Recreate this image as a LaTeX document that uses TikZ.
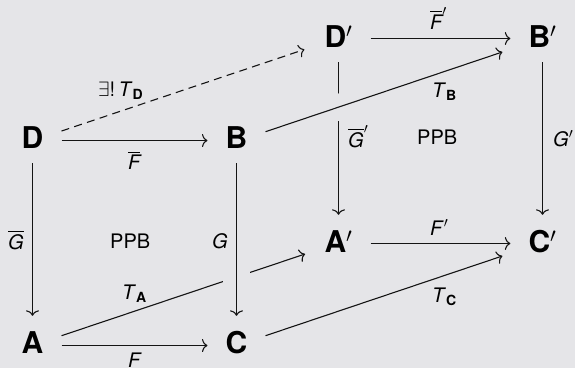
\documentclass[tikz,border=0pt]{standalone}
\usepackage{amsmath}
\usepackage{fontspec}
\setmainfont{TeX Gyre Heros}
\usetikzlibrary{arrows.meta,calc}
\definecolor{paper}{RGB}{229,229,232}
\definecolor{ink}{RGB}{20,20,20}
\begin{document}
\begin{tikzpicture}[x=1pt,y=-1pt,
  obj/.style={font=\fontsize{30}{36}\selectfont\bfseries, anchor=base,
    inner xsep=18pt, inner ysep=15pt, text height=22pt, text depth=0pt},
  lbl/.style={font=\fontsize{20}{24}\selectfont, anchor=base west, inner sep=0pt},
  arr/.style={draw=ink, line width=1.1pt, -{To[length=5.5pt,width=13pt]}},
  gapcover/.style={draw=paper, line width=26pt},
]
\fill[paper] (0,0) rectangle (575,368);
\useasboundingbox (0,0) rectangle (575,368);

% objects: front face
\node[obj] (D) at (32.5,148) {D};
\node[obj] (B) at (236.5,148) {B};
\node[obj] (A) at (32.5,353) {A};
\node[obj] (C) at (236.5,353) {C};
% objects: back face
\node[obj] (Dp) at (338.5,47) {D$'$};
\node[obj] (Bp) at (542.5,47) {B$'$};
\node[obj] (Ap) at (338.5,252) {A$'$};
\node[obj] (Cp) at (542.5,252) {C$'$};

% end points of the diagonal maps
\coordinate (ds) at ([shift={(0,-17)}]D.base east);
\coordinate (de) at ([shift={(-2,2.5)}]Dp.base west);
\coordinate (bs) at ([shift={(0,-16.3)}]B.base east);
\coordinate (be) at ([shift={(-8,5)}]Bp.base west);
\coordinate (as) at ([shift={(0,-17.3)}]A.base east);
\coordinate (ae) at ([shift={(-1.3,2)}]Ap.base west);
\coordinate (cs) at ([shift={(0,-17.3)}]C.base east);
\coordinate (ce) at ([shift={(-8,4)}]Cp.base west);

% horizontal maps
\draw[arr] ([shift={(0,-7.5)}]D.base east) -- ([shift={(0,-7.5)}]B.base west);
\draw[arr] ([shift={(0,-7.5)}]A.base east) -- ([shift={(0,-7.5)}]C.base west);
\draw[arr] ([shift={(0,-8.5)}]Dp.base east) -- ([shift={(0,-8.5)}]Bp.base west);
\draw[arr] ([shift={(0,-8.5)}]Ap.base east) -- ([shift={(0,-8.5)}]Cp.base west);

% vertical maps (back) with T_B crossing over
\draw[arr] (Dp.south) -- (Ap.north);
\draw[arr] (Bp.south) -- (Cp.north);
\coordinate (x1) at (intersection of Dp.south--Ap.north and bs--be);
\draw[gapcover] ($(x1)!14pt!(bs)$) -- ($(x1)!14pt!(be)$);
\draw[arr] (bs) -- (be);

% diagonal maps
\draw[arr, dash pattern=on 8pt off 5.4pt] (ds) -- (de);
\draw[arr] (cs) -- (ce);
\draw[arr] (as) -- (ae);

% vertical maps (front) with G crossing over T_A
\draw[arr] (D.south) -- (A.north);
\coordinate (x2) at (intersection of B.south--C.north and as--ae);
\draw[gapcover, line width=27pt] ($(x2)+(0,-10)$) -- ($(x2)+(0,10)$);
\draw[arr] (B.south) -- (C.north);

% labels
\node[lbl] (lFb)  at (128,169.5) {$\overline{\textit{F}}$};
\node[lbl] (lTD)  at (98,96.5)   {$\exists$!\,\textit{T}$_{\textbf{D}}$};
\node[lbl] (lFbp) at (430,29)    {$\overline{\textit{F}}'$};
\node[lbl] (lTB)  at (432,97)    {\textit{T}$_{\textbf{B}}$};
\node[lbl] (lGbp) at (348,147.5) {$\overline{\textit{G}}'$};
\node[lbl] (lPPBb) at (417,144)  {PPB};
\node[lbl] (lGp)  at (553,146)   {\textit{G}$'$};
\node[lbl] (lGb)  at (8,249.5)   {$\overline{\textit{G}}$};
\node[lbl] (lPPBf) at (110,248)  {PPB};
\node[lbl] (lG)   at (212,248)   {\textit{G}};
\node[lbl] (lTA)  at (122,299)   {\textit{T}$_{\textbf{A}}$};
\node[lbl] (lF)   at (128,367.5) {\textit{F}};
\node[lbl] (lFp)  at (430,235)   {\textit{F}$'$};
\node[lbl] (lTC)  at (432,302)   {\textit{T}$_{\textbf{C}}$};
\end{tikzpicture}
\end{document}
